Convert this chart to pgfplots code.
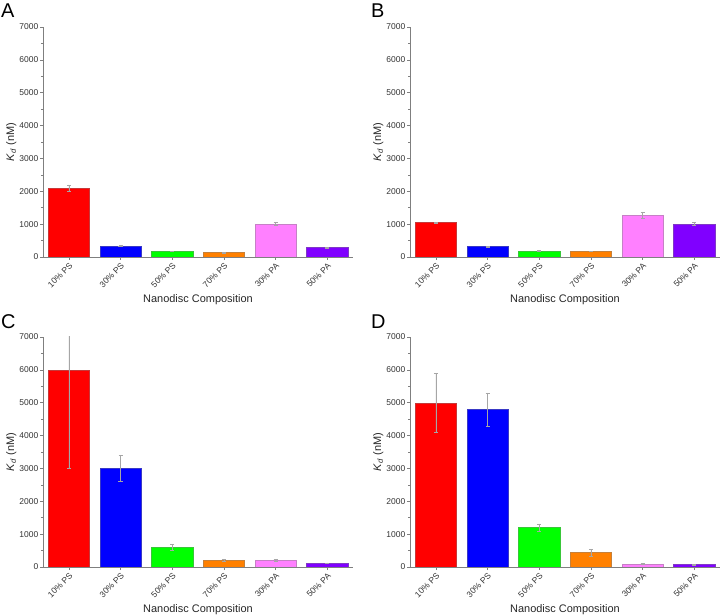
\documentclass[border=0pt]{standalone}
\usepackage{pgfplots}
\pgfplotsset{compat=1.18}
\usepackage{fontspec}
\setmainfont{Liberation Sans}
\definecolor{cPSa}{HTML}{FF0000}
\definecolor{cPSb}{HTML}{0000FF}
\definecolor{cPSc}{HTML}{00FF00}
\definecolor{cPSd}{HTML}{FF8000}
\definecolor{cPAa}{HTML}{FF80FF}
\definecolor{cPAb}{HTML}{8000FF}
\definecolor{axgray}{HTML}{7F7F7F}
\pgfplotsset{
  kd/.style={
    width=310bp, height=230bp, scale only axis,
    xmin=-0.5, xmax=5.5, ymin=0, ymax=7000,
    ytick={0,1000,...,7000}, minor y tick num=1,
    xtick={0,1,2,3,4,5},
    xticklabels={10\% PS,30\% PS,50\% PS,70\% PS,30\% PA,50\% PA},
    axis lines*=left,
    axis line style={axgray, line width=0.6pt},
    every tick/.style={axgray, line width=0.5pt},
    tick align=outside,
    major tick length=3bp, minor tick length=2bp,
    x tick label style={rotate=45, anchor=north east, font=\fontsize{8.5}{9}\selectfont, inner sep=1.5bp, text=black!80},
    y tick label style={font=\fontsize{8.5}{9}\selectfont, inner sep=1.5bp, text=black!80},
    /pgf/number format/1000 sep={},
    /pgf/number format/assume math mode=true,
    scaled y ticks=false,
    xlabel={Nanodisc Composition},
    ylabel={\textit{K}\textsubscript{\textit{d}} (nM)},
    label style={font=\fontsize{11}{12}\selectfont, text=black!85},
    xlabel style={yshift=-1bp},
    ylabel style={yshift=-2bp},
    anchor=south west,
  },
  kbar/.style={ybar, bar width=0.8, bar shift=0pt, fill=#1, draw=#1!55!gray, line width=0.4pt,
    error bars/.cd, y dir=both, y explicit,
    error bar style={black!35, line width=0.4pt},
    error mark options={rotate=90, mark size=2bp, black!35, line width=0.4pt}},
}
\begin{document}
\begin{tikzpicture}
\useasboundingbox (0bp,0bp) rectangle (720bp,615bp);
% Panel A
\begin{axis}[kd, at={(43bp,358bp)}]
\addplot[kbar=cPSa] coordinates {(0,2100) +- (0,100)};
\addplot[kbar=cPSb] coordinates {(1,335) +- (0,15)};
\addplot[kbar=cPSc] coordinates {(2,180) +- (0,10)};
\addplot[kbar=cPSd] coordinates {(3,140) +- (0,15)};
\addplot[kbar=cPAa] coordinates {(4,1010) +- (0,50)};
\addplot[kbar=cPAb] coordinates {(5,290) +- (0,15)};
\end{axis}
% Panel B
\begin{axis}[kd, at={(410bp,358bp)}]
\addplot[kbar=cPSa] coordinates {(0,1050) +- (0,20)};
\addplot[kbar=cPSb] coordinates {(1,320) +- (0,10)};
\addplot[kbar=cPSc] coordinates {(2,190) +- (0,10)};
\addplot[kbar=cPSd] coordinates {(3,180) +- (0,10)};
\addplot[kbar=cPAa] coordinates {(4,1275) +- (0,95)};
\addplot[kbar=cPAb] coordinates {(5,1010) +- (0,50)};
\end{axis}
% Panel C
\begin{axis}[kd, at={(43bp,48bp)}]
\addplot[kbar=cPSa] coordinates {(0,6000) +- (0,3000)};
\addplot[kbar=cPSb] coordinates {(1,3000) +- (0,400)};
\addplot[kbar=cPSc] coordinates {(2,600) +- (0,90)};
\addplot[kbar=cPSd] coordinates {(3,200) +- (0,30)};
\addplot[kbar=cPAa] coordinates {(4,200) +- (0,25)};
\addplot[kbar=cPAb] coordinates {(5,120) +- (0,10)};
\end{axis}
% Panel D
\begin{axis}[kd, at={(410bp,48bp)}]
\addplot[kbar=cPSa] coordinates {(0,5000) +- (0,900)};
\addplot[kbar=cPSb] coordinates {(1,4800) +- (0,500)};
\addplot[kbar=cPSc] coordinates {(2,1200) +- (0,100)};
\addplot[kbar=cPSd] coordinates {(3,440) +- (0,100)};
\addplot[kbar=cPAa] coordinates {(4,100) +- (0,10)};
\addplot[kbar=cPAb] coordinates {(5,80) +- (0,10)};
\end{axis}
\node[anchor=base west, inner sep=0pt, font=\fontsize{20}{20}\selectfont] at (1bp,597bp) {A};
\node[anchor=base west, inner sep=0pt, font=\fontsize{20}{20}\selectfont] at (371bp,597bp) {B};
\node[anchor=base west, inner sep=0pt, font=\fontsize{20}{20}\selectfont] at (1bp,286bp) {C};
\node[anchor=base west, inner sep=0pt, font=\fontsize{20}{20}\selectfont] at (371bp,286bp) {D};
\end{tikzpicture}
\end{document}
